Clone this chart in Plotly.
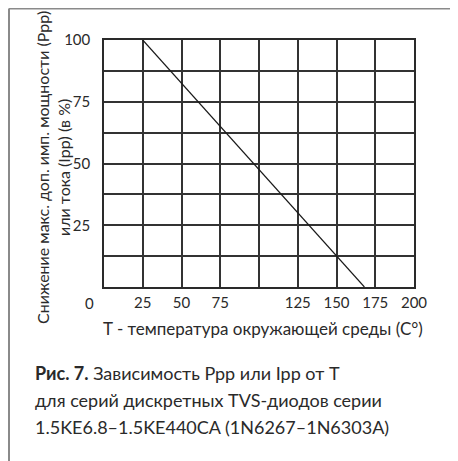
import plotly.graph_objects as go

# Data
temp_c = [25, 168]
derating_pct = [100, 0]

x_ticks = [25, 50, 75, 100, 125, 150, 175, 200]
x_tick_labels = ["25", "50", "75", "", "125", "150", "175", "200"]
y_ticks = [12.5, 25, 37.5, 50, 62.5, 75, 87.5, 100]
y_tick_labels = ["", "25", "", "50", "", "75", "", "100"]
y_title_lines = ["Снижение макс. доп. имп. мощности (Ppp)", "или тока (Ipp) (в %)"]
caption_lines = [
    "<b>Рис. 7.</b> Зависимость Ppp или Ipp от T",
    "для серий дискретных TVS-диодов серии",
    "1.5KE6.8–1.5KE440CA (1N6267–1N6303A)",
]

FONT = "Lato"
TXT = "#2a2a2a"

OFF = 8  # page body margin
W, H = 458 - OFF, 461 - OFF
L, R, T, B = 96, 44, 32, 174
pw, ph = W - L - R, H - T - B


def px(x):  # page pixel -> paper
    return (x - OFF - L) / pw


def py(y):
    return (H - B - (y - OFF)) / ph


fig = go.Figure()
fig.add_trace(go.Scatter(x=temp_c, y=derating_pct, mode="lines",
                         line=dict(color="#1a1a1a", width=1.2),
                         showlegend=False, hoverinfo="skip"))

axis_common = dict(showline=True, mirror=True, linecolor="#2a2a2a", linewidth=1.5,
                   showgrid=True, gridcolor="#333333", gridwidth=1.5,
                   ticks="", zeroline=False,
                   tickfont=dict(family=FONT, size=15, color=TXT))

fig.update_xaxes(range=[0, 200], tickmode="array", tickvals=x_ticks,
                 ticktext=x_tick_labels, ticklabelstandoff=1, **axis_common)
fig.update_yaxes(range=[0, 100], tickmode="array", tickvals=y_ticks,
                 ticktext=y_tick_labels, ticklabelstandoff=9, **axis_common)

annotations = [
    dict(x=px(89), y=py(303), xref="paper", yref="paper", text="0", showarrow=False,
         font=dict(family=FONT, size=15, color=TXT), xanchor="center", yanchor="middle"),
    dict(x=px(263), y=py(328), xref="paper", yref="paper",
         text="T - температура окружающей среды (С°)", showarrow=False,
         font=dict(family=FONT, size=17, color=TXT), xanchor="center", yanchor="middle"),
]
for i, line in enumerate(y_title_lines):
    annotations.append(dict(x=px(42 + 21 * i), y=py(168), xref="paper", yref="paper",
                            textangle=-90, text=line, showarrow=False,
                            font=dict(family=FONT, size=16, color=TXT),
                            xanchor="center", yanchor="middle"))
for i, line in enumerate(caption_lines):
    annotations.append(dict(x=px(33), y=py(373 + 27 * i), xref="paper", yref="paper",
                            text=line, showarrow=False, align="left",
                            font=dict(family=FONT, size=18, color=TXT),
                            xanchor="left", yanchor="middle"))

shapes = [
    dict(type="line", xref="paper", yref="paper", x0=px(9), x1=px(458), y0=py(8.5), y1=py(8.5),
         line=dict(color="#8a8a8a", width=2)),
    dict(type="line", xref="paper", yref="paper", x0=px(9), x1=px(9), y0=py(8.5), y1=py(461),
         line=dict(color="#8a8a8a", width=2)),
]

fig.update_layout(width=W, height=H, margin=dict(l=L, r=R, t=T, b=B),
                  paper_bgcolor="white", plot_bgcolor="white",
                  annotations=annotations, shapes=shapes, showlegend=False)

fig.write_html("out.html")
